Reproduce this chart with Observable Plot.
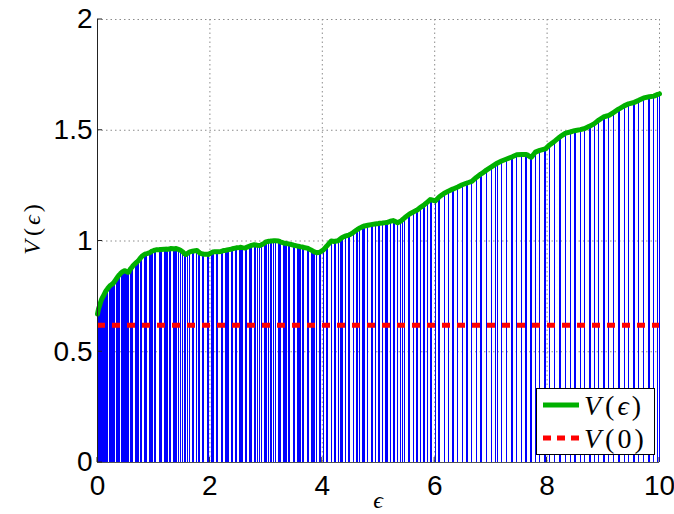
<!DOCTYPE html>
<html><head><meta charset="utf-8">
<script src="https://cdn.jsdelivr.net/npm/d3@7"></script>
<script src="https://cdn.jsdelivr.net/npm/@observablehq/plot@0.6"></script>
<style>
html,body{margin:0;padding:0;background:#fff;}
#chart{width:674px;height:514px;position:relative;}
</style></head><body><div id="chart"></div>
<script>
// Sample positions (epsilon) and values V(epsilon)
const eps = [
  0.00,0.02,0.04,0.05,0.07,0.09,0.11,0.13,0.14,0.16,0.18,0.21,0.23,0.25,0.27,0.29,0.31,0.33,0.35,0.36,
  0.38,0.40,0.42,0.44,0.46,0.48,0.50,0.52,0.54,0.56,0.58,
  0.60,0.62,0.63, 0.68,0.70,0.71,0.73, 0.77,0.79, 0.84,0.86,0.88, 0.93,0.95,0.96,0.98, 1.02,1.04,
  1.10,1.12,1.13, 1.19,1.21,1.22,1.24, 1.28,1.30, 1.35,1.37,1.38,1.40, 1.45,1.47, 1.52,1.54,1.55,1.57,
  1.61,1.63,1.64, 1.69,1.71, 1.77,1.79,1.80,1.82, 1.86,1.88,1.89, 1.95,1.97, 2.02,2.04,2.05,2.07,
  2.12,2.14, 2.20,2.22,2.23, 2.28,2.30,2.31,2.33, 2.38,2.40, 2.45,2.47,2.48, 2.53,2.55,2.56,2.58,
  2.63,2.65, 2.71,2.73,2.74, 2.79,2.81,2.82,2.84, 2.89,2.91, 2.97,2.99,3.00, 3.05,3.07,3.08,3.10,
  3.14,3.16, 3.22,3.24,3.25, 3.31,3.33,3.34,3.36, 3.40,3.42, 3.48,3.50,3.51, 3.56,3.58,3.59,3.61,
  3.65,3.67, 3.73,3.75,3.76, 3.81,3.83,3.84,3.86,3.87,3.89,3.90, 3.95,3.97,
  4.02, 4.07,4.09, 4.16, 4.21,4.23, 4.28, 4.33,4.35,4.36, 4.42, 4.47,4.49, 4.55, 4.60,4.62, 4.67,
  4.72,4.74,4.75, 4.81, 4.87,4.89, 4.94, 5.00,5.02, 5.07, 5.13,5.15,5.16, 5.21, 5.26,5.28, 5.34,
  5.40,5.42, 5.47, 5.53,5.55,5.56, 5.62, 5.67,5.69, 5.74, 5.80,5.82, 5.87, 5.92,5.94,5.95,
  6.01, 6.07,6.09, 6.17, 6.24, 6.31,6.33, 6.41, 6.49, 6.57,6.59, 6.66, 6.74, 6.82,6.84, 6.92, 7.01,
  7.09,7.11, 7.19, 7.28, 7.36,7.38, 7.46, 7.55, 7.62,7.64, 7.70,7.72, 7.79, 7.87, 7.95,7.97, 8.05,
  8.14, 8.22,8.24, 8.33, 8.41, 8.49,8.51, 8.59, 8.67, 8.75,8.77, 8.84, 8.92, 9.01,9.03, 9.10, 9.18,
  9.27,9.29, 9.37, 9.45, 9.53,9.55, 9.63, 9.72, 9.80,9.82, 9.90, 9.97, 10.00
];
const V = [
  0.670,0.695,0.710,0.720,0.735,0.745,0.755,0.765,0.770,0.778,0.785,0.795,0.800,0.803,0.807,0.812,0.820,0.827,0.835,0.838,
  0.845,0.850,0.856,0.860,0.863,0.866,0.864,0.862,0.859,0.860,0.872,
  0.878,0.884,0.888, 0.900,0.905,0.907,0.912, 0.925,0.931, 0.940,0.942,0.943, 0.947,0.951,0.953,0.955, 0.959,0.960,
  0.960,0.962,0.962, 0.963,0.963,0.964,0.962, 0.964,0.966, 0.965,0.964,0.965,0.966, 0.961,0.959, 0.950,0.945,0.942,0.939,
  0.945,0.949,0.951, 0.954,0.955, 0.957,0.953,0.950,0.946, 0.942,0.941,0.940, 0.940,0.939, 0.946,0.949,0.950,0.951,
  0.952,0.952, 0.953,0.955,0.956, 0.958,0.959,0.960,0.961, 0.963,0.965, 0.968,0.969,0.970, 0.971,0.972,0.971,0.970,
  0.968,0.971, 0.977,0.979,0.980, 0.983,0.982,0.982,0.981, 0.980,0.982, 0.990,0.995,0.996, 0.999,0.999,1.000,1.000,
  1.001,1.001, 1.000,0.998,0.996, 0.991,0.990,0.990,0.989, 0.987,0.986, 0.982,0.980,0.980, 0.977,0.976,0.975,0.974,
  0.973,0.971, 0.968,0.966,0.964, 0.958,0.955,0.953,0.951,0.950,0.948,0.947, 0.949,0.952,
  0.960, 0.975,0.980, 1.000, 0.998,0.999, 1.001, 1.011,1.015,1.017, 1.023, 1.027,1.029, 1.038, 1.048,1.051, 1.059,
  1.065,1.067,1.068, 1.071, 1.074,1.075, 1.077, 1.079,1.080, 1.081, 1.083,1.083,1.084, 1.089, 1.092,1.090, 1.082,
  1.090,1.095, 1.106, 1.118,1.121,1.123, 1.131, 1.138,1.140, 1.151, 1.161,1.165, 1.176, 1.187,1.186,1.185,
  1.181, 1.196,1.201, 1.216, 1.225, 1.233,1.235, 1.244, 1.254, 1.261,1.263, 1.269, 1.287, 1.302,1.305, 1.320, 1.335,
  1.348,1.351, 1.361, 1.370, 1.378,1.380, 1.389, 1.391, 1.391,1.390, 1.380,1.378, 1.401, 1.409, 1.415,1.416, 1.435,
  1.452, 1.468,1.472, 1.487, 1.492, 1.498,1.499, 1.503, 1.508, 1.518,1.520, 1.530, 1.546, 1.561,1.562, 1.567, 1.580,
  1.595,1.598, 1.610, 1.619, 1.624,1.626, 1.635, 1.646, 1.650,1.651, 1.654, 1.662, 1.664
];
const V0 = 0.62;                       // V(0), dashed reference level
const xTicks = [0, 2, 4, 6, 8, 10];
const yTicks = [0, 0.5, 1, 1.5, 2];
const yTickLabels = ["0", "0.5", "1", "1.5", "2"];

const data = eps.map((e, i) => ({e, v: V[i]}));

const W = 674, H = 514;
const plot = Plot.plot({
  width: W, height: H,
  marginLeft: 97, marginRight: 15, marginTop: 19, marginBottom: 52,
  x: {domain: [0, 10]},
  y: {domain: [0, 2]},
  style: {background: "white", fontFamily: "'Liberation Sans', Arial, sans-serif", color: "black", overflow: "visible"},
  marks: [
    Plot.gridX(xTicks, {stroke: "#8c8c8c", strokeOpacity: 1, strokeWidth: 1, strokeDasharray: "1.5,3"}),
    Plot.gridY(yTicks, {stroke: "#8c8c8c", strokeOpacity: 1, strokeWidth: 1, strokeDasharray: "1.5,3"}),
    Plot.ruleX(data, {x: "e", y1: 0, y2: "v", stroke: "#0000ff", strokeWidth: 1, shapeRendering: "crispEdges"}),
    Plot.ruleY([V0], {stroke: "#ff0000", strokeWidth: 5, strokeDasharray: "8,7"}),
    Plot.line(data, {x: "e", y: "v", stroke: "#00b000", strokeWidth: 5, strokeLinejoin: "round", strokeLinecap: "round"}),
    Plot.axisX(xTicks, {tickSize: 0, tickPadding: 13, fontSize: 28, label: null, tickFormat: d => String(d)}),
    Plot.axisY(yTicks, {tickSize: 0, tickPadding: 5, fontSize: 28, label: null, tickFormat: (d, i) => yTickLabels[i]}),
    Plot.ruleX([0], {stroke: "#222", strokeWidth: 1}),
    Plot.ruleY([0], {stroke: "#555", strokeWidth: 1.2})
  ]
});
document.getElementById("chart").appendChild(plot);

const svg = d3.select(plot);
const sx = plot.scale("x"), sy = plot.scale("y");
const x0 = sx.apply(0), y0 = sy.apply(0);
const g = svg.append("g").attr("stroke", "#222").attr("stroke-width", 1);
xTicks.forEach(t => g.append("line").attr("x1", sx.apply(t)).attr("x2", sx.apply(t)).attr("y1", y0).attr("y2", y0 - 5));
yTicks.forEach(t => g.append("line").attr("x1", x0).attr("x2", x0 + 5).attr("y1", sy.apply(t)).attr("y2", sy.apply(t)));

const serif = "'Liberation Serif','DejaVu Serif',serif";
function mathLabel(sel, inner) {
  sel.append("tspan").attr("font-style", "italic").text("V");
  sel.append("tspan").attr("dx", 4).text("(");
  sel.append("tspan").attr("dx", 3).attr("font-style", inner === "ϵ" ? "italic" : "normal").text(inner);
  sel.append("tspan").attr("dx", 3).text(")");
}

// axis labels
svg.append("text").attr("x", (sx.apply(0) + sx.apply(10)) / 2).attr("y", 508)
  .attr("text-anchor", "middle").attr("font-family", serif).attr("font-size", 24)
  .attr("font-style", "italic").text("ϵ");
const yl = svg.append("text").attr("transform", `translate(40,${(sy.apply(0) + sy.apply(2)) / 2 - 11}) rotate(-90)`)
  .attr("text-anchor", "middle").attr("font-family", serif).attr("font-size", 24);
mathLabel(yl, "ϵ");

// legend
const lg = svg.append("g").attr("text-anchor", "start");
lg.append("rect").attr("x", 536.5).attr("y", 388.5).attr("width", 118).attr("height", 66)
  .attr("fill", "white").attr("stroke", "black").attr("stroke-width", 1);
lg.append("line").attr("x1", 543).attr("x2", 579).attr("y1", 405).attr("y2", 405)
  .attr("stroke", "#00b000").attr("stroke-width", 5);
lg.append("line").attr("x1", 543).attr("x2", 579).attr("y1", 438).attr("y2", 438)
  .attr("stroke", "#ff0000").attr("stroke-width", 5).attr("stroke-dasharray", "8,6");
const t1 = lg.append("text").attr("x", 584).attr("y", 415).attr("text-anchor", "start").attr("font-family", serif).attr("font-size", 28);
mathLabel(t1, "ϵ");
const t2 = lg.append("text").attr("x", 584).attr("y", 448).attr("text-anchor", "start").attr("font-family", serif).attr("font-size", 28);
mathLabel(t2, "0");
</script></body></html>
